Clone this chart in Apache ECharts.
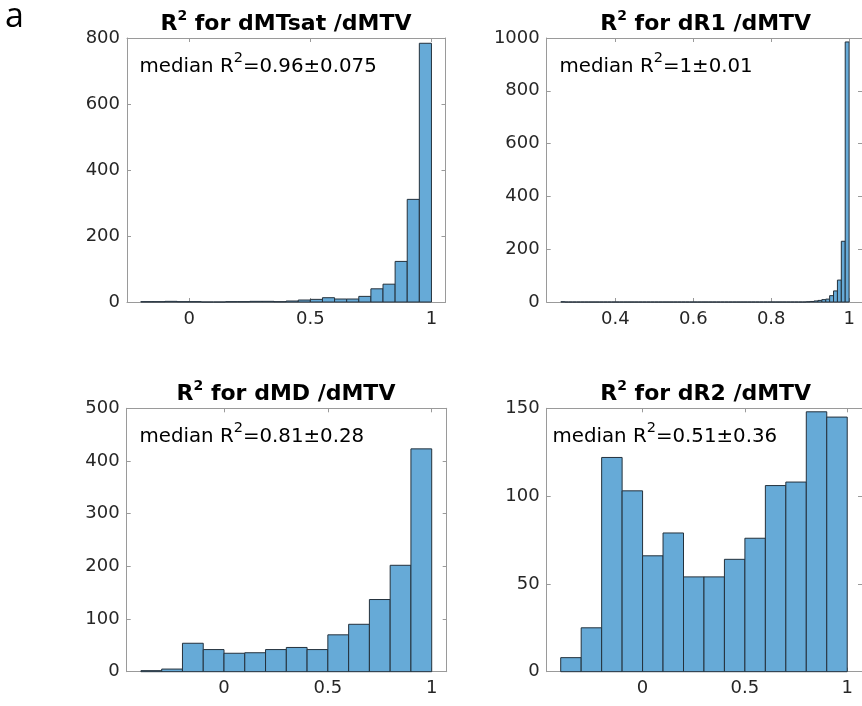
<!DOCTYPE html>
<html><head><meta charset="utf-8">
<script src="https://cdn.jsdelivr.net/npm/echarts@6/dist/echarts.min.js"></script>
<style>html,body{margin:0;padding:0;background:#fff}#c{width:862px;height:706px}</style>
</head><body><div id="c"></div>
<script>
// ---- data ----
const mtsatBinStart = -0.2, mtsatBinWidth = 0.05;
const mtsatCounts = [1,1,2,1,1,0,0,1,1,2,2,1,3,6,8,13,9,9,17,40,54,123,311,784];

const r1BinStart = 0.26, r1BinWidth = 0.01;
const r1Counts = [1,0,0,0,0,0,0,0,0,0,0,0,0,0,0,0,0,0,0,0,
                  0,0,0,0,0,0,0,0,0,0,0,0,0,0,0,0,0,0,0,0,
                  0,0,0,0,0,0,0,0,0,0,0,0,0,0,0,0,0,0,0,0,
                  0,0,0,1,2,4,6,9,11,24,42,83,230,985];

const mdBinStart = -0.4, mdBinWidth = 0.1;
const mdCounts = [2,5,54,42,35,36,42,46,42,70,90,137,202,423];

const r2BinStart = -0.4, r2BinWidth = 0.1;
const r2Counts = [8,25,122,103,66,79,54,54,64,76,106,108,148,145];

const titleNames = ['dMTsat /dMTV', 'dR1 /dMTV', 'dMD /dMTV', 'dR2 /dMTV'];
const medianValues = ['0.96±0.075', '1±0.01', '0.81±0.28', '0.51±0.36'];

const xTicks1 = [0, 0.5, 1];
const xTicks2 = [0.4, 0.6, 0.8, 1];
const xTicks3 = [0, 0.5, 1];
const xTicks4 = [0, 0.5, 1];
const yTicks1 = [0, 200, 400, 600, 800];
const yTicks2 = [0, 200, 400, 600, 800, 1000];
const yTicks3 = [0, 100, 200, 300, 400, 500];
const yTicks4 = [0, 50, 100, 150];

// ---- layout ----
const panels = [
  {grid:{left:127, top:38, width:318.5, height:264}, xMin:-0.257, xMax:1.058, yMax:800,
   start:mtsatBinStart, w:mtsatBinWidth, counts:mtsatCounts, xt:xTicks1, yt:yTicks1,
   titleX:286, titleY:24.5, medX:139.5, medY:66.5},
  {grid:{left:546.7, top:38, width:318, height:264}, xMin:0.2236, xMax:1.0331, yMax:1000,
   start:r1BinStart, w:r1BinWidth, counts:r1Counts, xt:xTicks2, yt:yTicks2,
   titleX:705.7, titleY:24.5, medX:559.5, medY:66.5},
  {grid:{left:126.7, top:408.3, width:320, height:263.4}, xMin:-0.4685, xMax:1.0722, yMax:500,
   start:mdBinStart, w:mdBinWidth, counts:mdCounts, xt:xTicks3, yt:yTicks3,
   titleX:286, titleY:394.5, medX:139.5, medY:436.7},
  {grid:{left:546.7, top:408.3, width:320, height:263.4}, xMin:-0.4685, xMax:1.0722, yMax:150,
   start:r2BinStart, w:r2BinWidth, counts:r2Counts, xt:xTicks4, yt:yTicks4,
   titleX:705.7, titleY:394.5, medX:552.5, medY:436.7}
];

const FONT = 'DejaVu Sans';
const AXIS_COLOR = '#9a9a9a';
const TEXT_COLOR = '#262626';

const grids = [], xAxes = [], yAxes = [], series = [], graphics = [];
const plain = v => String(v);

panels.forEach((p, i) => {
  grids.push(Object.assign({containLabel:false}, p.grid));
  const line = {show:true, onZero:false, lineStyle:{color:AXIS_COLOR, width:1}};
  const tick = (vals) => ({show:true, inside:true, length:4, customValues:vals, lineStyle:{color:AXIS_COLOR}});
  xAxes.push({type:'value', gridIndex:i, min:p.xMin, max:p.xMax, position:'bottom',
    axisLine:line, axisTick:tick(p.xt), splitLine:{show:false},
    axisLabel:{customValues:p.xt, formatter:plain, color:TEXT_COLOR, fontFamily:FONT, fontSize:18, margin:8}});
  xAxes.push({type:'value', gridIndex:i, min:p.xMin, max:p.xMax, position:'top',
    axisLine:line, axisTick:tick(p.xt), splitLine:{show:false}, axisLabel:{show:false}});
  yAxes.push({type:'value', gridIndex:i, min:0, max:p.yMax, position:'left',
    axisLine:line, axisTick:tick(p.yt), splitLine:{show:false},
    axisLabel:{customValues:p.yt, formatter:plain, color:TEXT_COLOR, fontFamily:FONT, fontSize:18, margin:7}});
  yAxes.push({type:'value', gridIndex:i, min:0, max:p.yMax, position:'right',
    axisLine:line, axisTick:tick(p.yt), splitLine:{show:false}, axisLabel:{show:false}});

  const data = p.counts.map((c, k) => {
    const a = Math.round((p.start + k * p.w) * 1e6) / 1e6;
    const b = Math.round((p.start + (k + 1) * p.w) * 1e6) / 1e6;
    return [a, b, c];
  });
  series.push({
    type:'custom', xAxisIndex:i*2, yAxisIndex:i*2, data:data, silent:true,
    encode:{x:[0,1], y:2},
    renderItem:function(params, api){
      const p0 = api.coord([api.value(0), 0]);
      const p1 = api.coord([api.value(1), api.value(2)]);
      return {type:'rect',
        shape:{x:p0[0], y:p1[1], width:p1[0]-p0[0], height:p0[1]-p1[1]},
        style:{fill:'#66AAD7', stroke:'#24313c', lineWidth:1}};
    }
  });

  graphics.push({type:'text', x:p.titleX, y:p.titleY, z:10,
    style:{text:'{a|R}{s|2}{a| for ' + titleNames[i] + '}', align:'center', verticalAlign:'middle',
      rich:{a:{fontFamily:FONT, fontWeight:'bold', fontSize:22, lineHeight:30, fill:'#000'},
            s:{fontFamily:FONT, fontWeight:'bold', fontSize:14, lineHeight:14, verticalAlign:'top', fill:'#000'}}}});
  graphics.push({type:'text', x:p.medX, y:p.medY, z:10,
    style:{text:'{a|median R}{s|2}{a|=' + medianValues[i] + '}', align:'left', verticalAlign:'middle',
      rich:{a:{fontFamily:FONT, fontSize:19.8, lineHeight:31, fill:'#000'},
            s:{fontFamily:FONT, fontSize:14.5, lineHeight:14.5, verticalAlign:'top', fill:'#000'}}}});
});

graphics.push({type:'text', x:5, y:17, z:10,
  style:{text:'a', fontFamily:'Open Sans', fontSize:34, fill:'#000', align:'left', verticalAlign:'middle'}});

const chart = echarts.init(document.getElementById('c'), null, {renderer:'canvas'});
chart.setOption({
  animation:false,
  backgroundColor:'#fff',
  grid:grids, xAxis:xAxes, yAxis:yAxes, series:series, graphic:graphics
});
</script></body></html>
